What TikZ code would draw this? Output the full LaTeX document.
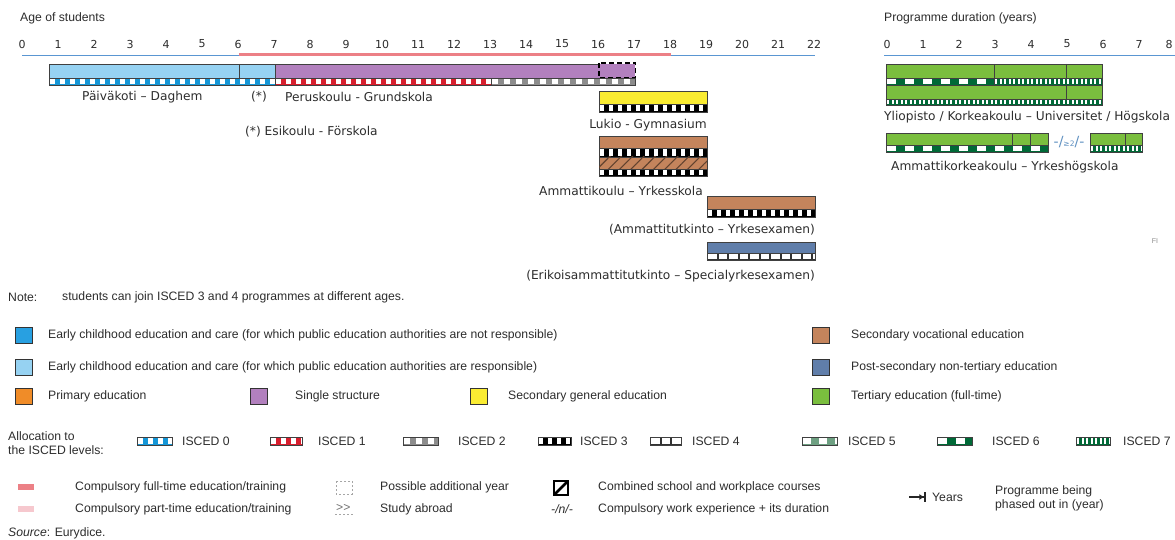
\documentclass[tikz,border=0pt]{standalone}
\usepackage{fontspec}
\setmainfont{Liberation Sans}
\newfontfamily\verdfont{DejaVu Sans}
\usetikzlibrary{patterns.meta,arrows.meta}
\definecolor{ececlight}{RGB}{150,210,242}
\definecolor{ececdark}{RGB}{40,160,225}
\definecolor{primary}{RGB}{240,140,40}
\definecolor{single}{RGB}{178,128,190}
\definecolor{secgen}{RGB}{250,236,50}
\definecolor{secvoc}{RGB}{196,132,92}
\definecolor{postsec}{RGB}{96,126,170}
\definecolor{tertiary}{RGB}{122,190,62}
\definecolor{compfull}{RGB}{236,128,134}
\definecolor{comppart}{RGB}{246,200,206}
\definecolor{axisblue}{RGB}{90,150,210}
\definecolor{iscblue}{RGB}{20,150,215}
\definecolor{iscred}{RGB}{215,30,45}
\definecolor{iscgreen}{RGB}{0,105,55}
\definecolor{iscsage}{RGB}{110,160,130}
\definecolor{txtgray}{RGB}{45,45,45}
\tikzset{
  progbar/.style={draw=black!75, line width=0.6pt},
  stripline/.style={draw=black!75, line width=0.5pt},
  dashbox/.style={draw=black, line width=1.6pt, dash pattern=on 5pt off 3pt},
  agenum/.style={font=\verdfont\fontsize{11}{13}\selectfont, text=txtgray, inner sep=0pt},
  barlbl/.style={font=\verdfont\fontsize{12.2}{14}\selectfont, text=txtgray, inner sep=0pt},
  lgdtxt/.style={font=\fontsize{12.2}{14}\selectfont, text=txtgray, inner sep=0pt, anchor=west, align=left},
  lgdbox/.style={draw=black!80, line width=0.6pt},
  axisline/.style={draw=axisblue, line width=1pt},
  compline/.style={draw=compfull, line width=3.5pt},
  hatched/.style={postaction={pattern color=secvoc!50!black,
                  pattern={Lines[angle=45,distance=8pt,line width=1.1pt]}}},
  workexp/.style={font=\verdfont\fontsize{14}{15}\selectfont, text=axisblue!80!gray, inner sep=0pt},
  addyear/.style={draw=black!35, line width=0.6pt, dash pattern=on 2pt off 2pt},
  yrarrow/.style={-{Latex[length=5pt,width=6pt] Bar[width=10pt,line width=1.6pt]}, line width=1.3pt, draw=black!85},
}
% programme bar and ISCED strips
\newcommand{\prog}[5]{\draw[progbar, fill=#5] (#1,#3) rectangle (#2,#4);}
\newcommand{\cellstrip}[7]{%
  \fill[#5] (#1,#3) rectangle (#2,#4);
  \begin{scope}
    \clip (#1,#3) rectangle (#2,#4);
    \pgfmathtruncatemacro{\ncell}{(#2-#1)/#6}
    \foreach \k in {0,...,\ncell}
      \fill[white] ({#1+\k*#6+1},{#3+1.1}) rectangle ++(#7,{#4-#3-2.2});
  \end{scope}
  \draw[stripline] (#1,#3) rectangle (#2,#4);}
\newcommand{\IscO}[4]{\cellstrip{#1}{#2}{#3}{#4}{iscblue}{10}{5}}
\newcommand{\IscI}[4]{\cellstrip{#1}{#2}{#3}{#4}{iscred}{10}{5}}
\newcommand{\IscII}[4]{\cellstrip{#1}{#2}{#3}{#4}{black!45}{12}{6}}
\newcommand{\IscIII}[4]{\cellstrip{#1}{#2}{#3}{#4}{black}{9}{4}}
\newcommand{\IscIV}[4]{\cellstrip{#1}{#2}{#3}{#4}{black!80}{10.5}{8.5}}
\newcommand{\IscV}[4]{\cellstrip{#1}{#2}{#3}{#4}{iscsage}{16}{8}}
\newcommand{\IscVI}[4]{\cellstrip{#1}{#2}{#3}{#4}{iscgreen}{18}{9}}
\newcommand{\IscVII}[4]{\cellstrip{#1}{#2}{#3}{#4}{iscgreen}{4.5}{2}}
\newcommand{\swatch}[3]{\draw[lgdbox, fill=#3] (#1,{#2-8}) rectangle ++(17,16);}

\begin{document}
\begin{tikzpicture}[x=1pt, y=-1pt]
    \fill[white] (0,0) rectangle (1175,540);
    \useasboundingbox (0,0) rectangle (1175,540);

      % age axis
      \node[lgdtxt] (agetitle) at (20,18) {Age of students};
      \foreach \a in {0,...,22}
        \node[agenum] (age\a) at ({22+36*\a},44) {\a};
      \draw[axisline] (22,56) -- (815,56);
      \draw[compline] (239,54.5) -- (671,54.5);

      % ECEC and single structure
      \prog{49}{275}{64}{78}{ececlight}
      \draw[progbar] (239,64) -- (239,78);
      \fill[single] (275,64) rectangle (635,78);
      \draw[progbar] (599,64) -- (275,64) -- (275,78) -- (599,78);
      \draw[dashbox] (599,63) rectangle (635.5,78);
      \IscO{49}{275}{78}{85}
      \IscI{275}{491}{78}{85}
      \IscII{491}{635}{78}{85}
      \node[barlbl, anchor=west] (daghem) at (82,97) {Päiväkoti – Daghem};
      \node[barlbl] (presch) at (259,97) {(*)};
      \node[barlbl, anchor=west] (grund) at (285,97) {Peruskoulu - Grundskola};
      \node[barlbl, anchor=west] (forsk) at (245,132) {(*) Esikoulu - Förskola};

      % upper secondary and post-secondary
      \prog{599}{707}{91}{104}{secgen}
      \IscIII{599}{707}{104}{112}
      \node[barlbl, anchor=east] (lukio) at (707,125) {Lukio - Gymnasium};
      \prog{599}{707}{136}{148}{secvoc}
      \IscIII{599}{707}{148}{157}
      \draw[progbar, fill=secvoc, hatched] (599,157) rectangle (707,169);
      \IscIII{599}{707}{169}{176}
      \node[barlbl, anchor=east] (ammkoulu) at (703,191) {Ammattikoulu – Yrkesskola};
      \prog{707}{815}{196}{209}{secvoc}
      \IscIII{707}{815}{209}{217}
      \node[barlbl, anchor=east] (ammtut) at (815,230) {(Ammattitutkinto – Yrkesexamen)};
      \prog{707}{815}{242}{253}{postsec}
      \IscIV{707}{815}{253}{260}
      \node[barlbl, anchor=east] (erik) at (815,276) {(Erikoisammattitutkinto – Specialyrkesexamen)};

      % tertiary
      \node[lgdtxt] (durtitle) at (884,18) {Programme duration (years)};
      \foreach \y in {0,...,7}
        \node[agenum] (dur\y) at ({887+36*\y},44) {\y};
      \node[agenum] (dur8) at (1169,44) {8};
      \draw[axisline] (884,56) -- (1180,56);
      \prog{886}{1102}{64}{78}{tertiary}
      \draw[progbar] (994,64) -- (994,78) (1066,64) -- (1066,78);
      \IscVI{886}{994}{78}{85}
      \IscVII{994}{1102}{78}{85}
      \prog{886}{1102}{85}{99}{tertiary}
      \draw[progbar] (1066,85) -- (1066,99);
      \IscVII{886}{1102}{99}{105}
      \node[barlbl, anchor=west] (yliop) at (884,117) {Yliopisto / Korkeakoulu – Universitet / Högskola};
      \prog{886}{1048}{133}{145}{tertiary}
      \draw[progbar] (1012,133) -- (1012,145) (1030,133) -- (1030,145);
      \IscVI{886}{1048}{145}{152}
      \node[workexp] (amkwork) at (1069,142) {-/{\fontsize{7.5}{8}\selectfont ≥2}/-};
      \prog{1090}{1142}{133}{145}{tertiary}
      \draw[progbar] (1125,133) -- (1125,145);
      \IscVII{1090}{1142}{145}{152}
      \node[barlbl, anchor=west] (amk) at (891,167) {Ammattikorkeakoulu – Yrkeshögskola};
      \node[font=\fontsize{7}{8}\selectfont, text=black!45] (fi) at (1155,241) {FI};

      % note and colour legend
      \node[lgdtxt] (note) at (8,297) {Note:};
      \node[lgdtxt] (notetxt) at (62,297) {students can join ISCED 3 and 4 programmes at different ages.};
      \swatch{15}{335}{ececdark}
      \node[lgdtxt] (lgececn) at (48,335) {Early childhood education and care (for which public education authorities are not responsible)};
      \swatch{15}{367}{ececlight}
      \node[lgdtxt] (lgececr) at (48,367) {Early childhood education and care (for which public education authorities are responsible)};
      \swatch{15}{396}{primary}
      \node[lgdtxt] (lgprim) at (48,396) {Primary education};
      \swatch{250}{396}{single}
      \node[lgdtxt] (lgsing) at (295,396) {Single structure};
      \swatch{470}{396}{secgen}
      \node[lgdtxt] (lgsecg) at (508,396) {Secondary general education};
      \swatch{812}{335}{secvoc}
      \node[lgdtxt] (lgsecv) at (851,335) {Secondary vocational education};
      \swatch{812}{367}{postsec}
      \node[lgdtxt] (lgpost) at (851,367) {Post-secondary non-tertiary education};
      \swatch{812}{396}{tertiary}
      \node[lgdtxt] (lgtert) at (851,396) {Tertiary education (full-time)};

      % ISCED legend
      \node[lgdtxt] (alloc) at (8,443) {Allocation to\\the ISCED levels:};
      \IscO{137}{172}{437}{445}
      \node[lgdtxt] (lgi0) at (182,441) {ISCED 0};
      \IscI{270}{302}{437}{445}
      \node[lgdtxt] (lgi1) at (318,441) {ISCED 1};
      \IscII{403}{438}{437}{445}
      \node[lgdtxt] (lgi2) at (458,441) {ISCED 2};
      \IscIII{538}{571}{437}{445}
      \node[lgdtxt] (lgi3) at (580,441) {ISCED 3};
      \IscIV{650}{681}{437}{445}
      \node[lgdtxt] (lgi4) at (692,441) {ISCED 4};
      \IscV{802}{837}{437}{445}
      \node[lgdtxt] (lgi5) at (848,441) {ISCED 5};
      \IscVI{937}{972}{437}{445}
      \node[lgdtxt] (lgi6) at (992,441) {ISCED 6};
      \IscVII{1076}{1110}{437}{445}
      \node[lgdtxt] (lgi7) at (1123,441) {ISCED 7};

      % symbol legend
      \fill[compfull] (18,484) rectangle (34,490);
      \node[lgdtxt] (lgcfull) at (75,487) {Compulsory full-time education/training};
      \fill[comppart] (18,506) rectangle (34,512);
      \node[lgdtxt] (lgcpart) at (75,509) {Compulsory part-time education/training};
      \draw[addyear] (336,481) rectangle (352,494);
      \node[lgdtxt] (lgaddy) at (380,487) {Possible additional year};
      \node[lgdtxt, text=black!55] (abroad) at (336,508) {>\kern0pt>};
      \draw[addyear] (335,514) -- (353,514);
      \node[lgdtxt] (lgabr) at (380,509) {Study abroad};
      \draw[lgdbox, draw=black, line width=1.2pt] (554,481) rectangle (568,495);
      \draw[line width=2.6pt] (555,494) -- (567,482);
      \node[lgdtxt] (lgcomb) at (598,487) {Combined school and workplace courses};
      \node[lgdtxt] (lgwsym) at (551,509) {\textit{-/n/-}};
      \node[lgdtxt] (lgwexp) at (598,509) {Compulsory work experience + its duration};
      \coordinate (yrfrom) at (909,497);
      \coordinate (yrto) at (926,497);
      \draw[yrarrow] (yrfrom) -- (yrto);
      \node[lgdtxt] (lgyrs) at (932,497) {Years};
      \node[lgdtxt] (lgphase) at (995,498) {Programme being\\phased out in (year)};

      \node[lgdtxt] (source) at (8,533) {\textit{Source}: Eurydice.};

    \end{tikzpicture}
\end{document}
